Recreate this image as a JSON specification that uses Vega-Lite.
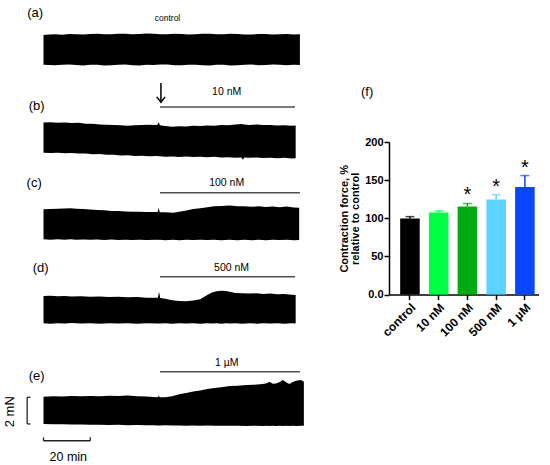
{
  "$schema": "https://vega.github.io/schema/vega-lite/v6.json",
  "padding": 0,
  "background": "white",
  "config": {
    "view": {"stroke": null},
    "font": "Liberation Sans, Arial, sans-serif",
    "axisY": {"labelOverlap": false}
  },
  "datasets": {
    "trace": [
      {"p":"a","t":0,"y":2.30,"lo":0.02},{"p":"a","t":2.5,"y":2.34,"lo":-0.01},{"p":"a","t":5,"y":2.36,"lo":-0.02},{"p":"a","t":8,"y":2.33,"lo":0.02},{"p":"a","t":11,"y":2.39,"lo":0.03},{"p":"a","t":14,"y":2.36,"lo":-0.01},{"p":"a","t":17,"y":2.35,"lo":-0.03},{"p":"a","t":20,"y":2.39,"lo":0.01},{"p":"a","t":23,"y":2.40,"lo":0.02},{"p":"a","t":26,"y":2.36,"lo":-0.03},{"p":"a","t":29,"y":2.37,"lo":-0.02},{"p":"a","t":32,"y":2.41,"lo":0.02},{"p":"a","t":35,"y":2.41,"lo":0.03},{"p":"a","t":38,"y":2.37,"lo":-0.02},{"p":"a","t":41,"y":2.38,"lo":-0.03},{"p":"a","t":44,"y":2.42,"lo":0.01},{"p":"a","t":47,"y":2.40,"lo":0},{"p":"a","t":50,"y":2.37,"lo":0.03},{"p":"a","t":53,"y":2.36,"lo":0.03},{"p":"a","t":56,"y":2.40,"lo":-0.02},{"p":"a","t":59,"y":2.39,"lo":-0.02},{"p":"a","t":62,"y":2.35,"lo":0.02},{"p":"a","t":65,"y":2.37,"lo":0.02},{"p":"a","t":68,"y":2.41,"lo":-0.02},{"p":"a","t":71,"y":2.40,"lo":-0.03},{"p":"a","t":74,"y":2.37,"lo":0.02},{"p":"a","t":77,"y":2.36,"lo":0.01},{"p":"a","t":80,"y":2.40,"lo":-0.03},{"p":"a","t":83,"y":2.38,"lo":-0.02},{"p":"a","t":86,"y":2.34,"lo":0.02},{"p":"a","t":89,"y":2.35,"lo":0.03},{"p":"a","t":92,"y":2.39,"lo":-0.02},{"p":"a","t":95,"y":2.38,"lo":-0.01},{"p":"a","t":98,"y":2.34,"lo":0.03},{"p":"a","t":101,"y":2.36,"lo":0.02},{"p":"a","t":104,"y":2.39,"lo":-0.02},{"p":"a","t":107,"y":2.35,"lo":0.01},{"p":"a","t":109.6,"y":2.37,"lo":0},
      {"p":"b","t":0,"y":2.49,"lo":0.18},{"p":"b","t":3,"y":2.52,"lo":0.15},{"p":"b","t":6,"y":2.47,"lo":0.18},{"p":"b","t":9,"y":2.50,"lo":0.14},{"p":"b","t":12,"y":2.45,"lo":0.16},{"p":"b","t":15,"y":2.47,"lo":0.12},{"p":"b","t":18,"y":2.41,"lo":0.12},{"p":"b","t":21,"y":2.40,"lo":0.06},{"p":"b","t":24,"y":2.35,"lo":0.07},{"p":"b","t":27,"y":2.33,"lo":0.01},{"p":"b","t":30,"y":2.30,"lo":0.02},{"p":"b","t":33,"y":2.28,"lo":-0.03},{"p":"b","t":36,"y":2.25,"lo":-0.02},{"p":"b","t":39,"y":2.29,"lo":-0.07},{"p":"b","t":42,"y":2.30,"lo":-0.05},{"p":"b","t":45,"y":2.33,"lo":-0.10},{"p":"b","t":48.6,"y":2.31,"lo":-0.08},{"p":"b","t":49.2,"y":2.52,"lo":-0.10},{"p":"b","t":49.8,"y":2.29,"lo":-0.10},{"p":"b","t":52,"y":2.22,"lo":-0.13},{"p":"b","t":55,"y":2.18,"lo":-0.11},{"p":"b","t":58,"y":2.21,"lo":-0.15},{"p":"b","t":61,"y":2.19,"lo":-0.12},{"p":"b","t":64,"y":2.24,"lo":-0.15},{"p":"b","t":67,"y":2.22,"lo":-0.13},{"p":"b","t":70,"y":2.27,"lo":-0.17},{"p":"b","t":73,"y":2.25,"lo":-0.14},{"p":"b","t":76,"y":2.30,"lo":-0.19},{"p":"b","t":79,"y":2.29,"lo":-0.17},{"p":"b","t":82,"y":2.35,"lo":-0.21},{"p":"b","t":84.6,"y":2.38,"lo":-0.19},{"p":"b","t":85.2,"y":2.36,"lo":-0.36},{"p":"b","t":85.8,"y":2.35,"lo":-0.20},{"p":"b","t":88,"y":2.31,"lo":-0.22},{"p":"b","t":91,"y":2.34,"lo":-0.19},{"p":"b","t":94,"y":2.30,"lo":-0.23},{"p":"b","t":97,"y":2.31,"lo":-0.21},{"p":"b","t":100,"y":2.27,"lo":-0.25},{"p":"b","t":103,"y":2.29,"lo":-0.22},{"p":"b","t":106,"y":2.25,"lo":-0.27},{"p":"b","t":107.8,"y":2.27,"lo":-0.26},
      {"p":"c","t":0,"y":2.36,"lo":0.05},{"p":"c","t":3,"y":2.39,"lo":0.02},{"p":"c","t":6,"y":2.40,"lo":0.05},{"p":"c","t":9,"y":2.43,"lo":0.02},{"p":"c","t":11.5,"y":2.44,"lo":0.05},{"p":"c","t":14,"y":2.40,"lo":0.01},{"p":"c","t":17,"y":2.38,"lo":0.04},{"p":"c","t":20,"y":2.34,"lo":0.01},{"p":"c","t":23,"y":2.31,"lo":0.04},{"p":"c","t":26,"y":2.29,"lo":0},{"p":"c","t":29,"y":2.24,"lo":0.03},{"p":"c","t":32,"y":2.23,"lo":-0.01},{"p":"c","t":35,"y":2.19,"lo":0.02},{"p":"c","t":38,"y":2.18,"lo":-0.01},{"p":"c","t":41,"y":2.17,"lo":0.02},{"p":"c","t":44,"y":2.15,"lo":-0.01},{"p":"c","t":48.8,"y":2.16,"lo":0.01},{"p":"c","t":49.2,"y":2.49,"lo":0},{"p":"c","t":49.7,"y":2.14,"lo":0.01},{"p":"c","t":52,"y":2.13,"lo":-0.02},{"p":"c","t":55.4,"y":2.09,"lo":0.01},{"p":"c","t":58,"y":2.17,"lo":-0.02},{"p":"c","t":61,"y":2.26,"lo":0.02},{"p":"c","t":64,"y":2.38,"lo":-0.01},{"p":"c","t":67,"y":2.45,"lo":0.02},{"p":"c","t":70,"y":2.52,"lo":-0.01},{"p":"c","t":73,"y":2.59,"lo":0.01},{"p":"c","t":76,"y":2.62,"lo":-0.02},{"p":"c","t":79.6,"y":2.66,"lo":0.01},{"p":"c","t":83,"y":2.60,"lo":-0.02},{"p":"c","t":86,"y":2.60,"lo":0.01},{"p":"c","t":89,"y":2.55,"lo":-0.02},{"p":"c","t":92,"y":2.59,"lo":0.01},{"p":"c","t":95,"y":2.54,"lo":-0.02},{"p":"c","t":98,"y":2.58,"lo":0.01},{"p":"c","t":101,"y":2.52,"lo":-0.01},{"p":"c","t":104,"y":2.57,"lo":0.01},{"p":"c","t":107,"y":2.50,"lo":-0.02},{"p":"c","t":109.3,"y":2.49,"lo":-0.01},
      {"p":"d","t":0,"y":2.12,"lo":0.02},{"p":"d","t":3,"y":2.14,"lo":-0.01},{"p":"d","t":6,"y":2.10,"lo":0.02},{"p":"d","t":9,"y":2.12,"lo":0},{"p":"d","t":12,"y":2.08,"lo":0.03},{"p":"d","t":16,"y":2.09,"lo":0},{"p":"d","t":20,"y":2.06,"lo":0.02},{"p":"d","t":24,"y":2.07,"lo":-0.01},{"p":"d","t":28,"y":2.04,"lo":0.02},{"p":"d","t":32,"y":2.05,"lo":0},{"p":"d","t":36,"y":2.02,"lo":0.02},{"p":"d","t":40,"y":2.03,"lo":-0.01},{"p":"d","t":44,"y":1.99,"lo":0.02},{"p":"d","t":48.9,"y":1.98,"lo":0},{"p":"d","t":49.4,"y":2.45,"lo":0},{"p":"d","t":49.9,"y":1.97,"lo":0},{"p":"d","t":52,"y":1.90,"lo":0.02},{"p":"d","t":55,"y":1.78,"lo":-0.01},{"p":"d","t":58,"y":1.74,"lo":0.02},{"p":"d","t":61,"y":1.72,"lo":0},{"p":"d","t":64,"y":1.76,"lo":0.02},{"p":"d","t":67,"y":1.86,"lo":-0.01},{"p":"d","t":70,"y":2.20,"lo":0.02},{"p":"d","t":72,"y":2.38,"lo":0},{"p":"d","t":74,"y":2.48,"lo":0.02},{"p":"d","t":76,"y":2.52,"lo":-0.01},{"p":"d","t":78,"y":2.50,"lo":0.02},{"p":"d","t":80,"y":2.42,"lo":0},{"p":"d","t":82,"y":2.35,"lo":0.02},{"p":"d","t":85,"y":2.33,"lo":-0.01},{"p":"d","t":88,"y":2.30,"lo":0.02},{"p":"d","t":91,"y":2.32,"lo":-0.01},{"p":"d","t":94,"y":2.27,"lo":0.02},{"p":"d","t":97,"y":2.30,"lo":0},{"p":"d","t":100,"y":2.25,"lo":0.02},{"p":"d","t":103,"y":2.27,"lo":-0.01},{"p":"d","t":106,"y":2.21,"lo":0.01},{"p":"d","t":107.8,"y":2.19,"lo":0},
      {"p":"e","t":0,"y":2.18,"lo":0.08},{"p":"e","t":4,"y":2.21,"lo":0.06},{"p":"e","t":8,"y":2.19,"lo":0.05},{"p":"e","t":12,"y":2.23,"lo":0.04},{"p":"e","t":16,"y":2.21,"lo":0.03},{"p":"e","t":20,"y":2.24,"lo":0.02},{"p":"e","t":24,"y":2.22,"lo":0.02},{"p":"e","t":28,"y":2.25,"lo":0},{"p":"e","t":32,"y":2.23,"lo":0.01},{"p":"e","t":36,"y":2.26,"lo":-0.01},{"p":"e","t":40,"y":2.22,"lo":0},{"p":"e","t":44,"y":2.20,"lo":-0.02},{"p":"e","t":47,"y":2.15,"lo":-0.02},{"p":"e","t":48.8,"y":2.13,"lo":-0.03},{"p":"e","t":49.2,"y":2.25,"lo":-0.03},{"p":"e","t":49.7,"y":2.13,"lo":-0.03},{"p":"e","t":52,"y":2.14,"lo":-0.02},{"p":"e","t":55,"y":2.22,"lo":-0.04},{"p":"e","t":58,"y":2.36,"lo":-0.03},{"p":"e","t":61,"y":2.46,"lo":-0.05},{"p":"e","t":64,"y":2.57,"lo":-0.04},{"p":"e","t":67,"y":2.66,"lo":-0.06},{"p":"e","t":70,"y":2.76,"lo":-0.04},{"p":"e","t":73,"y":2.84,"lo":-0.06},{"p":"e","t":76,"y":2.90,"lo":-0.05},{"p":"e","t":79.6,"y":3.00,"lo":-0.06},{"p":"e","t":83,"y":3.02,"lo":-0.05},{"p":"e","t":86.7,"y":3.08,"lo":-0.07},{"p":"e","t":90,"y":3.10,"lo":-0.05},{"p":"e","t":93.7,"y":3.15,"lo":-0.07},{"p":"e","t":95.5,"y":3.22,"lo":-0.06},{"p":"e","t":96.6,"y":3.33,"lo":-0.08},{"p":"e","t":98,"y":3.18,"lo":-0.06},{"p":"e","t":99.4,"y":3.20,"lo":-0.07},{"p":"e","t":101,"y":3.30,"lo":-0.06},{"p":"e","t":102.3,"y":3.46,"lo":-0.07},{"p":"e","t":103.7,"y":3.28,"lo":-0.06},{"p":"e","t":105.1,"y":3.15,"lo":-0.08},{"p":"e","t":106.5,"y":3.30,"lo":-0.06},{"p":"e","t":108,"y":3.41,"lo":-0.07},{"p":"e","t":110.1,"y":3.46,"lo":-0.06},{"p":"e","t":111.3,"y":3.33,"lo":-0.06}
    ],
    "lab": [
      {"p":"a","k":"panel","t":-3.6,"y":4.02,"text":"(a)"},
      {"p":"a","k":"ctrl","t":53,"y":3.64,"text":"control"},
      {"p":"b","k":"panel","t":-2.9,"y":3.77,"text":"(b)"},
      {"p":"b","k":"conc","t":78.3,"y":4.85,"text":"10 nM"},
      {"p":"c","k":"panel","t":-4.0,"y":4.36,"text":"(c)"},
      {"p":"c","k":"conc","t":78.3,"y":4.41,"text":"100 nM"},
      {"p":"d","k":"panel","t":-1.2,"y":4.25,"text":"(d)"},
      {"p":"d","k":"conc","t":80.4,"y":4.25,"text":"500 nM"},
      {"p":"e","k":"panel","t":-2.9,"y":3.75,"text":"(e)"},
      {"p":"e","k":"conc","t":78.3,"y":4.79,"text":"1 µM"},
      {"p":"e","k":"scale","t":10.6,"y":-2.44,"text":"20 min"},
      {"p":"e","k":"scalev","t":-14.3,"y":1.02,"text":"2 mN"}
    ],
    "seg": [
      {"p":"b","k":"drug","t":49.8,"t2":107.5,"y":3.69,"y2":3.69},
      {"p":"c","k":"drug","t":49.8,"t2":109.6,"y":3.64,"y2":3.64},
      {"p":"d","k":"drug","t":49.8,"t2":107.5,"y":3.6,"y2":3.6},
      {"p":"e","k":"drug","t":49.8,"t2":109.6,"y":4.1,"y2":4.1},
      {"p":"b","k":"arrow","t":50.2,"t2":50.2,"y":5.54,"y2":4.05},
      {"p":"e","k":"bar","t":-7,"t2":-7,"y":0.08,"y2":2.13},
      {"p":"e","k":"bar","t":-7,"t2":-5.6,"y":2.13,"y2":2.13},
      {"p":"e","k":"bar","t":-7,"t2":-5.6,"y":0.08,"y2":0.08},
      {"p":"e","k":"bar","t":0,"t2":20,"y":-1.21,"y2":-1.21},
      {"p":"e","k":"bar","t":0,"t2":0,"y":-1.21,"y2":-0.95},
      {"p":"e","k":"bar","t":20,"t2":20,"y":-1.21,"y2":-0.95}
    ],
    "bars": [
      {"g":"control","mean":99.8,"upper":102.2,"sig":""},
      {"g":"10 nM","mean":107.5,"upper":109.6,"sig":""},
      {"g":"100 nM","mean":115.5,"upper":119.4,"sig":"*"},
      {"g":"500 nM","mean":124.6,"upper":131,"sig":"*"},
      {"g":"1 µM","mean":141,"upper":156,"sig":"*"}
    ]
  },
  "spacing": 18,
  "hconcat": [
    {
      "spacing": 0,
      "vconcat": [
        {
          "width": 320, "height": 75,
          "encoding": {
            "x": {"field": "t", "type": "quantitative", "scale": {"domain": [-18.6, 118.2], "nice": false, "zero": false}, "axis": null},
            "y": {"field": "y", "type": "quantitative", "scale": {"domain": [-0.77, 5.0], "nice": false, "zero": false}, "axis": null}
          },
          "layer": [
            {"data": {"name": "trace"}, "transform": [{"filter": "datum.p == 'a'"}], "mark": {"type": "area", "color": "black"}, "encoding": {"y2": {"field": "lo"}}},
            {"data": {"name": "lab"}, "transform": [{"filter": "datum.p == 'a' && datum.k == 'panel'"}], "mark": {"type": "text", "fontSize": 13, "color": "black"}, "encoding": {"text": {"field": "text"}}},
            {"data": {"name": "lab"}, "transform": [{"filter": "datum.p == 'a' && datum.k == 'ctrl'"}], "mark": {"type": "text", "fontSize": 8.5, "color": "black"}, "encoding": {"text": {"field": "text"}}}
          ]
        },
        {
          "width": 320, "height": 90,
          "encoding": {
            "x": {"field": "t", "type": "quantitative", "scale": {"domain": [-18.6, 118.2], "nice": false, "zero": false}, "axis": null},
            "y": {"field": "y", "type": "quantitative", "scale": {"domain": [-0.77, 6.15], "nice": false, "zero": false}, "axis": null}
          },
          "layer": [
            {"data": {"name": "trace"}, "transform": [{"filter": "datum.p == 'b'"}], "mark": {"type": "area", "color": "black"}, "encoding": {"y2": {"field": "lo"}}},
            {"data": {"name": "seg"}, "transform": [{"filter": "datum.p == 'b' && datum.k == 'drug'"}], "mark": {"type": "rule", "color": "#4d4d4d", "strokeWidth": 1.4}, "encoding": {"x2": {"field": "t2"}, "y2": {"field": "y2"}}},
            {"data": {"name": "seg"}, "transform": [{"filter": "datum.p == 'b' && datum.k == 'arrow'"}], "mark": {"type": "rule", "color": "black", "strokeWidth": 1.5}, "encoding": {"x2": {"field": "t2"}, "y2": {"field": "y2"}}},
            {"data": {"name": "seg"}, "transform": [{"filter": "datum.p == 'b' && datum.k == 'arrow'"}], "mark": {"type": "point", "shape": "M-1,-1.3L0,0L1,-1.3", "size": 70, "filled": false, "color": "black", "strokeWidth": 1.5, "opacity": 1}, "encoding": {"x": {"field": "t2", "type": "quantitative"}, "y": {"field": "y2", "type": "quantitative"}}},
            {"data": {"name": "lab"}, "transform": [{"filter": "datum.p == 'b' && datum.k == 'panel'"}], "mark": {"type": "text", "fontSize": 13, "color": "black"}, "encoding": {"text": {"field": "text"}}},
            {"data": {"name": "lab"}, "transform": [{"filter": "datum.p == 'b' && datum.k == 'conc'"}], "mark": {"type": "text", "fontSize": 10.5, "color": "black"}, "encoding": {"text": {"field": "text"}}}
          ]
        },
        {
          "width": 320, "height": 85,
          "encoding": {
            "x": {"field": "t", "type": "quantitative", "scale": {"domain": [-18.6, 118.2], "nice": false, "zero": false}, "axis": null},
            "y": {"field": "y", "type": "quantitative", "scale": {"domain": [-0.77, 5.77], "nice": false, "zero": false}, "axis": null}
          },
          "layer": [
            {"data": {"name": "trace"}, "transform": [{"filter": "datum.p == 'c'"}], "mark": {"type": "area", "color": "black"}, "encoding": {"y2": {"field": "lo"}}},
            {"data": {"name": "seg"}, "transform": [{"filter": "datum.p == 'c' && datum.k == 'drug'"}], "mark": {"type": "rule", "color": "#4d4d4d", "strokeWidth": 1.4}, "encoding": {"x2": {"field": "t2"}, "y2": {"field": "y2"}}},
            {"data": {"name": "lab"}, "transform": [{"filter": "datum.p == 'c' && datum.k == 'panel'"}], "mark": {"type": "text", "fontSize": 13, "color": "black"}, "encoding": {"text": {"field": "text"}}},
            {"data": {"name": "lab"}, "transform": [{"filter": "datum.p == 'c' && datum.k == 'conc'"}], "mark": {"type": "text", "fontSize": 10.5, "color": "black"}, "encoding": {"text": {"field": "text"}}}
          ]
        },
        {
          "width": 320, "height": 85,
          "encoding": {
            "x": {"field": "t", "type": "quantitative", "scale": {"domain": [-18.6, 118.2], "nice": false, "zero": false}, "axis": null},
            "y": {"field": "y", "type": "quantitative", "scale": {"domain": [-0.885, 5.654], "nice": false, "zero": false}, "axis": null}
          },
          "layer": [
            {"data": {"name": "trace"}, "transform": [{"filter": "datum.p == 'd'"}], "mark": {"type": "area", "color": "black"}, "encoding": {"y2": {"field": "lo"}}},
            {"data": {"name": "seg"}, "transform": [{"filter": "datum.p == 'd' && datum.k == 'drug'"}], "mark": {"type": "rule", "color": "#4d4d4d", "strokeWidth": 1.4}, "encoding": {"x2": {"field": "t2"}, "y2": {"field": "y2"}}},
            {"data": {"name": "lab"}, "transform": [{"filter": "datum.p == 'd' && datum.k == 'panel'"}], "mark": {"type": "text", "fontSize": 13, "color": "black"}, "encoding": {"text": {"field": "text"}}},
            {"data": {"name": "lab"}, "transform": [{"filter": "datum.p == 'd' && datum.k == 'conc'"}], "mark": {"type": "text", "fontSize": 10.5, "color": "black"}, "encoding": {"text": {"field": "text"}}}
          ]
        },
        {
          "width": 320, "height": 130,
          "encoding": {
            "x": {"field": "t", "type": "quantitative", "scale": {"domain": [-18.6, 118.2], "nice": false, "zero": false}, "axis": null},
            "y": {"field": "y", "type": "quantitative", "scale": {"domain": [-3.077, 6.923], "nice": false, "zero": false}, "axis": null}
          },
          "layer": [
            {"data": {"name": "trace"}, "transform": [{"filter": "datum.p == 'e'"}], "mark": {"type": "area", "color": "black"}, "encoding": {"y2": {"field": "lo"}}},
            {"data": {"name": "seg"}, "transform": [{"filter": "datum.p == 'e' && datum.k == 'drug'"}], "mark": {"type": "rule", "color": "#4d4d4d", "strokeWidth": 1.4}, "encoding": {"x2": {"field": "t2"}, "y2": {"field": "y2"}}},
            {"data": {"name": "seg"}, "transform": [{"filter": "datum.p == 'e' && datum.k == 'bar'"}], "mark": {"type": "rule", "color": "#222222", "strokeWidth": 1.3}, "encoding": {"x2": {"field": "t2"}, "y2": {"field": "y2"}}},
            {"data": {"name": "lab"}, "transform": [{"filter": "datum.p == 'e' && datum.k == 'panel'"}], "mark": {"type": "text", "fontSize": 13, "color": "black"}, "encoding": {"text": {"field": "text"}}},
            {"data": {"name": "lab"}, "transform": [{"filter": "datum.p == 'e' && datum.k == 'conc'"}], "mark": {"type": "text", "fontSize": 10.5, "color": "black"}, "encoding": {"text": {"field": "text"}}},
            {"data": {"name": "lab"}, "transform": [{"filter": "datum.p == 'e' && datum.k == 'scale'"}], "mark": {"type": "text", "fontSize": 12.5, "color": "black"}, "encoding": {"text": {"field": "text"}}},
            {"data": {"name": "lab"}, "transform": [{"filter": "datum.p == 'e' && datum.k == 'scalev'"}], "mark": {"type": "text", "fontSize": 13, "angle": 270, "color": "black"}, "encoding": {"text": {"field": "text"}}}
          ]
        }
      ]
    },
    {
      "spacing": 0,
      "vconcat": [
        {
          "width": 10, "height": 84.5,
          "data": {"values": [{}]},
          "mark": {"type": "point", "opacity": 0}
        },
        {
          "width": 150, "height": 152.6,
          "title": {"text": "(f)", "anchor": "start", "frame": "group", "fontSize": 13, "fontWeight": "normal", "color": "black", "offset": 37.5, "dx": -28},
          "data": {"name": "bars"},
          "encoding": {
            "x": {"field": "g", "type": "nominal", "sort": ["control", "10 nM", "100 nM", "500 nM", "1 µM"],
                  "scale": {"paddingInner": 0.32, "paddingOuter": 0.27, "align": 0.72},
                  "axis": {"title": null, "labelAngle": -45, "labelFontSize": 12, "labelFontWeight": "bold", "labelColor": "black", "domainColor": "black", "domainWidth": 1.5, "tickColor": "black", "tickWidth": 1.5, "tickSize": 5, "labelPadding": 2}},
            "color": {"field": "g", "type": "nominal",
                      "scale": {"domain": ["control", "10 nM", "100 nM", "500 nM", "1 µM"], "range": ["#000000", "#00ff44", "#00aa11", "#5bd2ff", "#0a46ff"]},
                      "legend": null}
          },
          "layer": [
            {"mark": {"type": "bar"},
             "encoding": {"y": {"field": "mean", "type": "quantitative", "scale": {"domain": [0, 200], "nice": false},
                                "axis": {"title": ["Contraction force, %", "relative to control"], "titleFontSize": 11, "titleFontWeight": "bold", "titleColor": "black", "titleLineHeight": 11.5, "titlePadding": 4,
                                         "values": [0, 50, 100, 150, 200], "tickCount": 5, "labelExpr": "datum.value == 0 ? '0.0' : datum.label", "labelOverlap": false,
                                         "labelFontSize": 11, "labelFontWeight": "bold", "labelColor": "black", "labelPadding": 1, "grid": false,
                                         "domainColor": "black", "domainWidth": 1.5, "tickColor": "black", "tickWidth": 1.5, "tickSize": 5}}}},
            {"mark": {"type": "rule", "strokeWidth": 1.5},
             "encoding": {"y": {"field": "mean", "type": "quantitative",
                                "axis": {"title": ["Contraction force, %", "relative to control"], "titleFontSize": 11, "titleFontWeight": "bold", "titleColor": "black", "titleLineHeight": 11.5, "titlePadding": 4,
                                         "values": [0, 50, 100, 150, 200], "tickCount": 5, "labelExpr": "datum.value == 0 ? '0.0' : datum.label", "labelOverlap": false,
                                         "labelFontSize": 11, "labelFontWeight": "bold", "labelColor": "black", "labelPadding": 1, "grid": false,
                                         "domainColor": "black", "domainWidth": 1.5, "tickColor": "black", "tickWidth": 1.5, "tickSize": 5}},
                          "y2": {"field": "upper"}}},
            {"mark": {"type": "tick", "thickness": 1.5, "size": 9},
             "encoding": {"y": {"field": "upper", "type": "quantitative",
                                "axis": {"title": ["Contraction force, %", "relative to control"], "titleFontSize": 11, "titleFontWeight": "bold", "titleColor": "black", "titleLineHeight": 11.5, "titlePadding": 4,
                                         "values": [0, 50, 100, 150, 200], "tickCount": 5, "labelExpr": "datum.value == 0 ? '0.0' : datum.label", "labelOverlap": false,
                                         "labelFontSize": 11, "labelFontWeight": "bold", "labelColor": "black", "labelPadding": 1, "grid": false,
                                         "domainColor": "black", "domainWidth": 1.5, "tickColor": "black", "tickWidth": 1.5, "tickSize": 5}}}},
            {"mark": {"type": "text", "fontSize": 20, "dy": -8, "baseline": "middle", "color": "black"},
             "encoding": {"y": {"field": "upper", "type": "quantitative",
                                "axis": {"title": ["Contraction force, %", "relative to control"], "titleFontSize": 11, "titleFontWeight": "bold", "titleColor": "black", "titleLineHeight": 11.5, "titlePadding": 4,
                                         "values": [0, 50, 100, 150, 200], "tickCount": 5, "labelExpr": "datum.value == 0 ? '0.0' : datum.label", "labelOverlap": false,
                                         "labelFontSize": 11, "labelFontWeight": "bold", "labelColor": "black", "labelPadding": 1, "grid": false,
                                         "domainColor": "black", "domainWidth": 1.5, "tickColor": "black", "tickWidth": 1.5, "tickSize": 5}},
                          "text": {"field": "sig"}, "color": {"value": "black"}}}
          ]
        }
      ]
    }
  ]
}
